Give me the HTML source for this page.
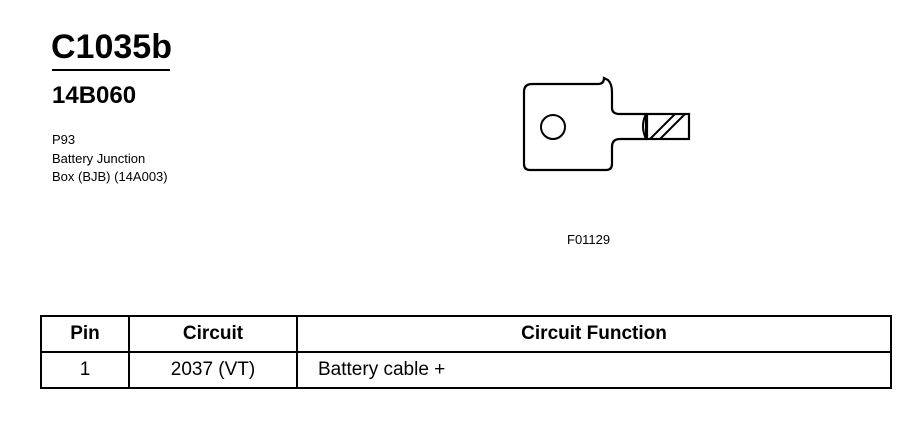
<!DOCTYPE html>
<html><head><style>
body{margin:0;width:918px;height:448px;background:#fff;position:relative;font-family:"Liberation Sans",Arial,sans-serif;color:#000;overflow:hidden}
.a{position:absolute;white-space:nowrap}
table{position:absolute;left:40px;top:315px;border-collapse:collapse}
td{border:2px solid #000;text-align:center;font-size:19px;padding:0;height:34px}
</style></head><body>
<div class="a" style="left:51px;top:28px;font-size:34px;font-weight:bold;letter-spacing:0px">C1035b</div>
<div class="a" style="left:52px;top:69px;width:118px;height:2px;background:#000"></div>
<div class="a" style="left:52px;top:82px;font-size:24px;font-weight:bold">14B060</div>
<div class="a" style="left:52px;top:131px;font-size:13px;line-height:18.5px">P93<br>Battery Junction<br>Box (BJB) (14A003)</div>
<div class="a" style="left:567px;top:232px;font-size:13px">F01129</div>
<svg class="a" style="left:0;top:0" width="918" height="448">
<path d="M532 84 L598 84 Q604 84 604 78 L608 80 Q612 84 612 92 L612 108 Q612 114 620 114 L646 114 L646 139 L620 139 Q612 139 612 147 L612 164 Q612 170 606 170 L530 170 Q524 170 524 164 L524 92 Q524 84 532 84 Z" fill="none" stroke="#000" stroke-width="2.2"/>
<path d="M646 114 Q640 126 646 139" fill="none" stroke="#000" stroke-width="2"/>
<circle cx="553" cy="127" r="12" fill="none" stroke="#000" stroke-width="2"/>
<rect x="647" y="114" width="42" height="25" fill="none" stroke="#000" stroke-width="2.2"/>
<line x1="650" y1="139" x2="675" y2="114" stroke="#000" stroke-width="2"/>
<line x1="660" y1="139" x2="685" y2="114" stroke="#000" stroke-width="2"/>
</svg>
<table>
<tr><td style="width:86px;font-weight:bold">Pin</td><td style="width:166px;font-weight:bold">Circuit</td><td style="width:592px;font-weight:bold">Circuit Function</td></tr>
<tr><td>1</td><td>2037 (VT)</td><td style="text-align:left;padding-left:20px">Battery cable +</td></tr>
</table>
</body></html>
